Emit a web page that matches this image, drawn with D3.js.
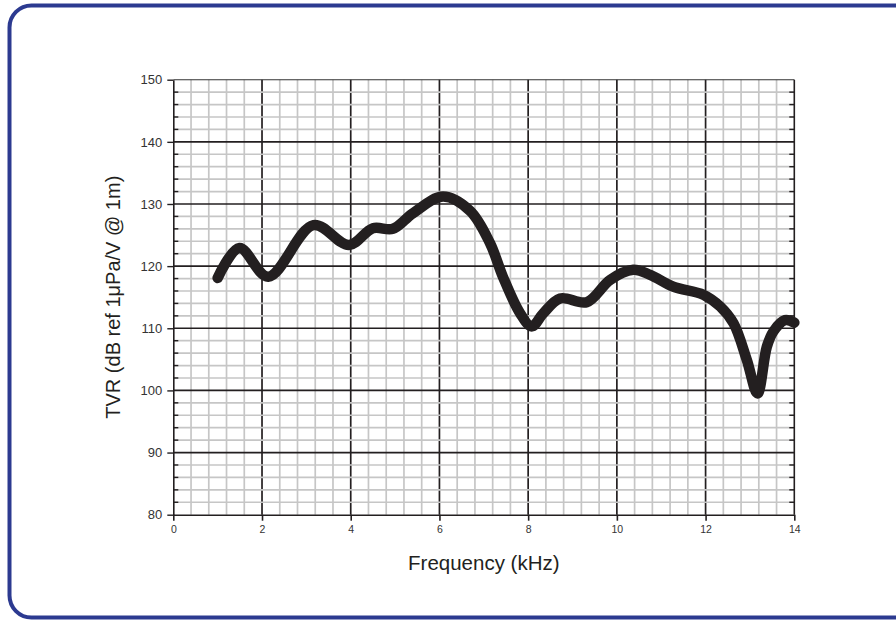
<!DOCTYPE html>
<html>
<head>
<meta charset="utf-8">
<script src="https://cdn.jsdelivr.net/npm/d3@7"></script>
<style>
  body { margin: 0; background: #fff; }
  svg { display: block; font-family: "Liberation Sans", Arial, sans-serif; }
</style>
</head>
<body>
<svg id="chart" width="896" height="620"></svg>
<script>
// values
const freq = [1.0, 1.49, 2.14, 3.16, 3.96, 4.5, 4.95, 5.4, 6.08, 6.69, 7.14, 7.43, 7.82, 8.08, 8.34, 8.72, 9.32, 9.85, 10.37, 10.75, 11.27, 11.95, 12.33, 12.63, 12.93, 13.17, 13.38, 13.53, 13.79, 14.0];
const tvr  = [118.1, 122.9, 118.3, 126.6, 123.4, 126.1, 126.0, 128.5, 131.2, 128.9, 123.7, 118.3, 112.4, 110.3, 112.4, 114.8, 114.2, 117.8, 119.4, 118.6, 116.7, 115.4, 113.5, 110.8, 104.9, 99.5, 107.0, 109.5, 111.3, 110.9];
const xTicks = [0, 2, 4, 6, 8, 10, 12, 14];
const yTicks = [80, 90, 100, 110, 120, 130, 140, 150];
const xLabel = 'Frequency (kHz)';
const yLabel = 'TVR (dB ref 1μPa/V @ 1m)';

const svg = d3.select('#chart');
const ink = '#231f20';

// blue rounded frame (runs off the right / bottom edge)
svg.append('rect')
    .attr('x', 9.5).attr('y', 5.5)
    .attr('width', 920).attr('height', 612)
    .attr('rx', 22).attr('ry', 22)
    .attr('fill', 'none')
    .attr('stroke', '#2c3a90')
    .attr('stroke-width', 4);

const x = d3.scaleLinear().domain([0, 14]).range([173.3, 794.3]);
const y = d3.scaleLinear().domain([80, 150]).range([514.7, 79.7]);

const minorX = d3.range(0, 14.001, 0.4).filter(v => Math.abs(v / 2 - Math.round(v / 2)) > 0.01);
const minorY = d3.range(80, 150.001, 2).filter(v => v % 10 !== 0);
const majorX = xTicks.filter(v => v > 0 && v < 14);
const majorY = yTicks.filter(v => v > 80 && v < 150);

let grid = svg.append('g').attr('id', 'grid');

// grey verticals, black verticals, grey horizontals, black horizontals
grid.selectAll('.gvx').data(minorX).enter().append('line')
    .attr('x1', d => x(d)).attr('x2', d => x(d))
    .attr('y1', y(150)).attr('y2', y(80))
    .attr('stroke', '#c6c6c6').attr('stroke-width', 1.7);

grid.selectAll('.bvx').data(majorX).enter().append('line')
    .attr('x1', d => x(d)).attr('x2', d => x(d))
    .attr('y1', y(150)).attr('y2', y(80))
    .attr('stroke', ink).attr('stroke-width', 1.7);

grid.selectAll('.gvy').data(minorY).enter().append('line')
    .attr('x1', x(0)).attr('x2', x(14))
    .attr('y1', d => y(d)).attr('y2', d => y(d))
    .attr('stroke', '#c6c6c6').attr('stroke-width', 1.7);

grid.selectAll('.bvy').data(majorY).enter().append('line')
    .attr('x1', x(0)).attr('x2', x(14))
    .attr('y1', d => y(d)).attr('y2', d => y(d))
    .attr('stroke', ink).attr('stroke-width', 1.7);

// top border
grid.append('line')
    .attr('x1', x(0)).attr('x2', x(14))
    .attr('y1', y(150)).attr('y2', y(150))
    .attr('stroke', '#333').attr('stroke-width', 1.1);

// left axis: outward major ticks with labels
let yAxis = d3.axisLeft(y).tickValues(yTicks).tickSize(6).tickPadding(5).tickSizeOuter(0);
svg.append('g')
    .attr('transform', 'translate(' + x(0) + ',0)')
    .call(yAxis)
    .call(g => g.select('.domain').attr('stroke', ink).attr('stroke-width', 1.6))
    .call(g => g.selectAll('.tick line').attr('stroke', ink).attr('stroke-width', 1.4))
    .selectAll('text')
    .style('font-size', '13px')
    .style('font-family', '"Liberation Sans", Arial, sans-serif')
    .attr('fill', '#333');

// inward minor ticks left + right
let minorTicks = svg.append('g').attr('id', 'minorTicks');
[[x(0), 1], [x(14), -1]].forEach(([px, dir]) => {
    minorTicks.selectAll(null).data(minorY).enter().append('line')
        .attr('x1', px).attr('x2', px + dir * 5)
        .attr('y1', d => y(d)).attr('y2', d => y(d))
        .attr('stroke', ink).attr('stroke-width', 1.4);
});

// right axis line
svg.append('line')
    .attr('x1', x(14)).attr('x2', x(14))
    .attr('y1', y(150)).attr('y2', y(80))
    .attr('stroke', ink).attr('stroke-width', 1.6);

// bottom axis
let xAxis = d3.axisBottom(x).tickValues(xTicks).tickSize(6).tickPadding(5).tickSizeOuter(0);
svg.append('g')
    .attr('transform', 'translate(0,' + y(80) + ')')
    .call(xAxis)
    .call(g => g.select('.domain').attr('stroke', ink).attr('stroke-width', 1.6))
    .call(g => g.selectAll('.tick line').attr('stroke', ink).attr('stroke-width', 1.6))
    .selectAll('text')
    .style('font-size', '10.5px')
    .style('font-family', '"Liberation Sans", Arial, sans-serif')
    .attr('fill', '#333');

// the response curve
const pts = freq.map((f, i) => [f, tvr[i]]);
svg.append('path')
    .datum(pts)
    .attr('d', d3.line().x(d => x(d[0])).y(d => y(d[1])).curve(d3.curveCatmullRom.alpha(0.5)))
    .attr('fill', 'none')
    .attr('stroke', ink)
    .attr('stroke-width', 10.5)
    .attr('stroke-linecap', 'round')
    .attr('stroke-linejoin', 'round');

// axis titles
svg.append('text')
    .attr('x', (x(0) + x(14)) / 2).attr('y', 570)
    .attr('text-anchor', 'middle')
    .style('font-size', '20.5px')
    .attr('fill', ink)
    .text(xLabel);

svg.append('text')
    .attr('transform', 'translate(120,' + (y(80) + y(150)) / 2 + ') rotate(-90)')
    .attr('text-anchor', 'middle')
    .style('font-size', '20px')
    .attr('fill', ink)
    .text(yLabel);
</script>
</body>
</html>
